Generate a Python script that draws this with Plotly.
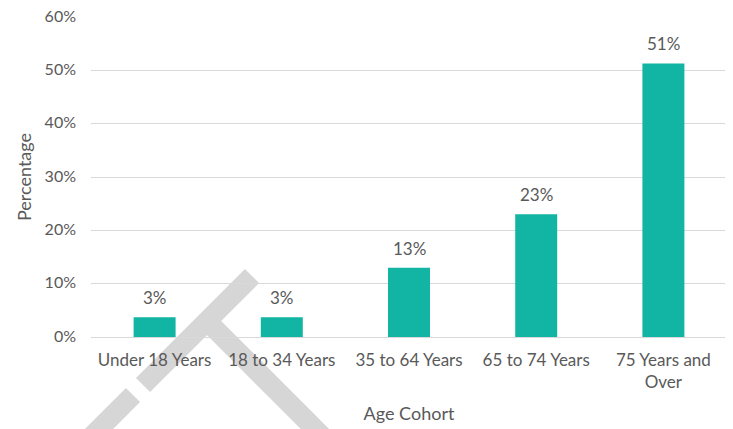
import plotly.graph_objects as go

categories = ["Under 18 Years", "18 to 34 Years", "35 to 64 Years", "65 to 74 Years", "75 Years and<br>Over"]
values = [3.7, 3.7, 13.0, 23.0, 51.3]
value_labels = ["3%", "3%", "13%", "23%", "51%"]
y_ticks = [0, 10, 20, 30, 40, 50, 60]
y_tick_labels = ["0%", "10%", "20%", "30%", "40%", "50%", "60%"]

TEXT = "#595959"
FONT = "Lato"

fig = go.Figure()
fig.add_trace(go.Bar(
    x=categories, y=values, marker=dict(color="#12B5A4", line=dict(width=0)),
    width=0.33, hoverinfo="skip",
))
for c, v, t in zip(categories, values, value_labels):
    fig.add_annotation(x=c, y=v, text=t, showarrow=False, yanchor="bottom", yshift=7,
                       font=dict(family=FONT, size=17, color=TEXT))

# plot area in screen pixels (page has an 8px body margin)
OFF = 8
W, H = 733 - OFF, 429 - OFF
L, R, T, B = 91, 727, 17, 337
def px(x): return (x - L) / (R - L)
def py(y): return (B - y) / (B - T)
wm = "#D6D6D6"
for (x0, y0, x1, y1) in [(252, 276, 143, 385), (133, 395, 90, 438), (208, 322, 328, 442)]:
    fig.add_shape(type="line", xref="paper", yref="paper", x0=px(x0), y0=py(y0), x1=px(x1), y1=py(y1),
                  line=dict(color=wm, width=20), layer="below")

fig.update_layout(
    width=W, height=H,
    margin=dict(l=L - OFF, r=W - (R - OFF), t=T - OFF, b=H - (B - OFF)),
    paper_bgcolor="white", plot_bgcolor="white",
    showlegend=False,
    font=dict(family=FONT, size=17, color=TEXT),
)
fig.update_xaxes(
    title=dict(text="Age Cohort", font=dict(family=FONT, size=18, color=TEXT), standoff=16),
    tickfont=dict(family=FONT, size=17, color=TEXT), showgrid=False, showline=False, ticks="",
    ticklabelstandoff=11, automargin=False,
)
fig.update_yaxes(
    title=dict(text="Percentage", font=dict(family=FONT, size=18, color=TEXT), standoff=8),
    range=[0, 60.02], tickvals=y_ticks, ticktext=y_tick_labels,
    tickfont=dict(family=FONT, size=16, color=TEXT), ticklabeloverflow="allow", ticklabelshift=-1,
    showgrid=True, gridcolor="#D9D9D9", gridwidth=1, zeroline=True, zerolinecolor="#D9D9D9",
    zerolinewidth=1, ticks="", ticklabelstandoff=14, automargin=False,
)
fig.write_html("out.html")
